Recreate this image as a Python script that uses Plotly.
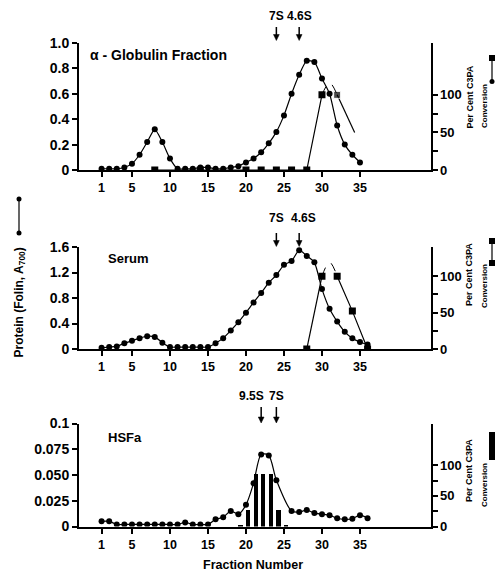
import plotly.graph_objects as go

# ---------------- data ----------------
tick_fracs = [1, 5, 10, 15, 20, 25, 30, 35]

# alpha-globulin fraction panel
top_frac = list(range(1, 36))
top_protein = [0.01, 0.01, 0.01, 0.02, 0.05, 0.12, 0.22, 0.32, 0.22, 0.09,
               0.01, 0.01, 0.01, 0.02, 0.02, 0.01, 0.01, 0.02, 0.03, 0.06,
               0.09, 0.14, 0.21, 0.30, 0.43, 0.60, 0.75, 0.86, 0.85, 0.72,
               0.60, 0.35, 0.20, 0.12, 0.06]
top_conv_frac = [8, 14, 20, 22, 24, 26, 28, 30]
top_conv = [0, 0, 0, 0, 0, 0, 0, 100]
top_conv_tail_frac = [32, 34.3]
top_conv_tail = [100, 50]
top_arc_frac = [30, 31, 32]
top_arc = [100, 116, 100]
top_markers = [("7S", 24), ("4.6S", 27)]

# serum panel
mid_frac = list(range(1, 37))
mid_protein = [0.02, 0.03, 0.04, 0.09, 0.13, 0.17, 0.20, 0.19, 0.10, 0.03,
               0.03, 0.03, 0.03, 0.03, 0.03, 0.09, 0.17, 0.29, 0.42, 0.57,
               0.73, 0.88, 1.04, 1.16, 1.32, 1.38, 1.55, 1.46, 1.36, 0.94,
               0.63, 0.43, 0.27, 0.17, 0.11, 0.07]
mid_conv_frac = [28, 30]
mid_conv = [0, 100]
mid_conv_tail_frac = [32, 34, 36]
mid_conv_tail = [100, 52, 0]
mid_arc_frac = [30, 31, 32]
mid_arc = [100, 119, 100]
mid_markers = [("7S", 24), ("4.6S", 27)]

# HSFa panel
bot_frac = [1, 2, 3, 4, 5, 6, 7, 8, 9, 10, 11, 12, 13, 14, 15, 16, 17, 18,
            19, 20, 21, 22, 23, 24, 26, 27, 28, 29, 30, 31, 32, 33, 34, 35, 36]
bot_protein = [0.005, 0.005, 0.002, 0.002, 0.002, 0.002, 0.002, 0.002, 0.002,
               0.002, 0.002, 0.004, 0.002, 0.002, 0.002, 0.007, 0.009, 0.015,
               0.012, 0.021, 0.042, 0.070, 0.069, 0.045, 0.015, 0.014, 0.016,
               0.013, 0.012, 0.011, 0.008, 0.007, 0.0075, 0.011, 0.008]
bar_frac = [19, 20, 21, 22, 23, 24, 25]
bar_conv = [3, 27, 86, 86, 86, 27, 2]
bot_markers = [("9.5S", 22), ("7S", 24)]

# axis tick labels
top_left_vals = [0, 0.2, 0.4, 0.6, 0.8, 1.0]
top_left_text = ["0", "0.2", "0.4", "0.6", "0.8", "1.0"]
mid_left_vals = [0, 0.4, 0.8, 1.2, 1.6]
mid_left_text = ["0", "0.4", "0.8", "1.2", "1.6"]
bot_left_vals = [0, 0.025, 0.05, 0.075, 0.1]
bot_left_text = ["0", "0.025", "0.050", "0.075", "0.1"]
right_vals = [0, 50, 100]
right_text = ["0", "50", "100"]
right_minor = [25, 75]

# ---------------- layout helpers ----------------
W, H = 501, 575
FONT = "Liberation Sans, Arial, sans-serif"


def px(x):
    return x / W


def py(y):
    return 1 - y / H


XDOM = [px(79), px(430.5)]
XRANGE = [-1.97, 44.28]

fig = go.Figure()

LW = 1.2
circ = dict(symbol="circle", size=6, color="black")
sq = dict(symbol="square", size=7, color="black")

# top panel traces
fig.add_trace(go.Scatter(x=top_frac, y=top_protein, mode="lines+markers",
                         line=dict(color="black", width=LW, shape="spline", smoothing=0.6),
                         marker=circ, xaxis="x", yaxis="y"))
fig.add_trace(go.Scatter(x=top_conv_frac, y=top_conv, mode="lines+markers",
                         line=dict(color="black", width=LW), marker=sq,
                         xaxis="x", yaxis="y2"))
fig.add_trace(go.Scatter(x=top_conv_tail_frac, y=top_conv_tail, mode="lines+markers",
                         line=dict(color="black", width=LW),
                         marker=dict(symbol="square", size=[7, 0], color="black"),
                         xaxis="x", yaxis="y2"))
fig.add_trace(go.Scatter(x=top_arc_frac, y=top_arc, mode="lines",
                         line=dict(color="black", width=1, dash="dash", shape="spline"),
                         xaxis="x", yaxis="y2"))

# middle panel traces
fig.add_trace(go.Scatter(x=mid_frac, y=mid_protein, mode="lines+markers",
                         line=dict(color="black", width=LW, shape="spline", smoothing=0.6),
                         marker=circ, xaxis="x2", yaxis="y3"))
fig.add_trace(go.Scatter(x=mid_conv_frac, y=mid_conv, mode="lines+markers",
                         line=dict(color="black", width=LW), marker=sq,
                         xaxis="x2", yaxis="y4"))
fig.add_trace(go.Scatter(x=mid_conv_tail_frac, y=mid_conv_tail, mode="lines+markers",
                         line=dict(color="black", width=LW), marker=sq,
                         xaxis="x2", yaxis="y4"))
fig.add_trace(go.Scatter(x=mid_arc_frac, y=mid_arc, mode="lines",
                         line=dict(color="black", width=1, dash="dash", shape="spline"),
                         xaxis="x2", yaxis="y4"))

# bottom panel traces
fig.add_trace(go.Bar(x=bar_frac, y=bar_conv, width=0.55, offset=0,
                     marker=dict(color="black", line=dict(width=0)),
                     xaxis="x3", yaxis="y6"))
fig.add_trace(go.Scatter(x=bot_frac, y=bot_protein, mode="lines+markers",
                         line=dict(color="black", width=LW, shape="spline", smoothing=0.8),
                         marker=circ, xaxis="x3", yaxis="y5"))


def f(size):
    return dict(family=FONT, size=size, color="black", weight="bold")


common = dict(ticks="outside", ticklen=5, tickwidth=1.5, tickcolor="black",
              showline=True, linewidth=2, linecolor="black", showgrid=False,
              zeroline=False, fixedrange=True, automargin=False)


def xax(anchor):
    return dict(domain=XDOM, range=XRANGE, anchor=anchor, tickvals=tick_fracs,
                tickfont=f(12.5), **common)


def yleft(dom, rng, vals, text, anchor):
    return dict(domain=dom, range=rng, anchor=anchor, tickvals=vals, ticktext=text,
                tickfont=f(14), **common)


def yright(over, rng, anchor):
    return dict(overlaying=over, side="right", range=rng, anchor=anchor,
                tickvals=right_vals, ticktext=right_text, tickfont=f(13),
                minor=dict(tickvals=right_minor, ticks="outside", ticklen=5,
                           tickwidth=1.5, tickcolor="black"),
                **common)


TOPD = [py(170), py(43)]
MIDD = [py(349), py(247)]
BOTD = [py(526.5), py(423.5)]

annotations = []
shapes = []


def txt(text, x, y, size=14, xanchor="center", yanchor="middle", angle=0,
        xref="paper", xshift=0):
    annotations.append(dict(text=text, x=x, y=y, xref=xref, yref="paper",
                            xanchor=xanchor, yanchor=yanchor, showarrow=False,
                            textangle=angle, xshift=xshift, font=f(size)))


def arrows(markers, xref, tip_y, tail_y, label_y, shifts):
    hw = 0.38  # half width of arrow head in fraction units
    for (lab, fr), sh in zip(markers, shifts):
        shapes.append(dict(type="line", xref=xref, yref="paper", x0=fr, x1=fr,
                           y0=py(tail_y), y1=py(tip_y - 5),
                           line=dict(color="black", width=1.5)))
        shapes.append(dict(type="path", xref=xref, yref="paper",
                           path=f"M {fr - hw} {py(tip_y - 6)} L {fr + hw} {py(tip_y - 6)} "
                                f"L {fr} {py(tip_y)} Z",
                           fillcolor="black", line=dict(color="black", width=0.5)))
        txt(lab, fr, py(label_y), size=12, xref=xref, xshift=sh)


arrows(top_markers, "x", 40.5, 27, 16, [0, 0])
arrows(mid_markers, "x2", 246.5, 233, 217.5, [0, 4])
arrows(bot_markers, "x3", 423, 407, 396, [-10, 0])

txt("α - Globulin Fraction", px(88), py(55), size=14, xanchor="left")
txt("Serum", px(106), py(258), size=13, xanchor="left")
txt("HSFa", px(106), py(437), size=13, xanchor="left")
txt("Fraction Number", px(253), py(565), size=12.5)

# left label
txt("Protein (Folin, A<sub>700</sub>)", px(19), py(302.5), size=12, angle=-90)

# right labels (centres of the rotated texts)
for pc_mid, conv_mid in ((97.5, 106), (275, 286), (471, 485)):
    txt("Per Cent C3PA", px(469), py(pc_mid), size=9, angle=-90)
    txt("Conversion", px(484), py(conv_mid), size=8, angle=-90)

# left legend symbol (line with dots)
shapes.append(dict(type="line", xref="paper", yref="paper", x0=px(19), x1=px(19),
                   y0=py(199), y1=py(233), line=dict(color="black", width=1.2)))
for yy in (199, 233):
    shapes.append(dict(type="circle", xref="paper", yref="paper",
                       x0=px(16.5), x1=px(21.5), y0=py(yy + 2.5), y1=py(yy - 2.5),
                       fillcolor="black", line=dict(width=0)))
SX = 492
# top right symbol: circle-line-square
shapes.append(dict(type="line", xref="paper", yref="paper", x0=px(SX), x1=px(SX),
                   y0=py(58), y1=py(82), line=dict(color="black", width=1.2)))
shapes.append(dict(type="rect", xref="paper", yref="paper", x0=px(SX - 3), x1=px(SX + 3),
                   y0=py(61), y1=py(55), fillcolor="black", line=dict(width=0)))
shapes.append(dict(type="circle", xref="paper", yref="paper", x0=px(SX - 2.5), x1=px(SX + 2.5),
                   y0=py(84), y1=py(79), fillcolor="black", line=dict(width=0)))
# middle right symbol: square-line-square
shapes.append(dict(type="line", xref="paper", yref="paper", x0=px(SX), x1=px(SX),
                   y0=py(241), y1=py(263), line=dict(color="black", width=1.2)))
for yy in (241, 263):
    shapes.append(dict(type="rect", xref="paper", yref="paper", x0=px(SX - 3), x1=px(SX + 3),
                       y0=py(yy + 3), y1=py(yy - 3), fillcolor="black", line=dict(width=0)))
# bottom right symbol: thick bar
shapes.append(dict(type="rect", xref="paper", yref="paper", x0=px(SX - 3), x1=px(SX + 3),
                   y0=py(460), y1=py(432), fillcolor="black", line=dict(width=0)))

fig.update_layout(
    width=W, height=H, margin=dict(l=0, r=0, t=0, b=0, autoexpand=False),
    paper_bgcolor="white", plot_bgcolor="white", showlegend=False,
    font=dict(family=FONT, color="black"),
    bargap=0, hovermode=False,
    xaxis=xax("y"),
    yaxis=yleft(TOPD, [0, 1.0], top_left_vals, top_left_text, "x"),
    yaxis2=yright("y", [0, 169], "x"),
    xaxis2=xax("y3"),
    yaxis3=yleft(MIDD, [0, 1.6], mid_left_vals, mid_left_text, "x2"),
    yaxis4=yright("y3", [0, 140], "x2"),
    xaxis3=xax("y5"),
    yaxis5=yleft(BOTD, [0, 0.1], bot_left_vals, bot_left_text, "x3"),
    yaxis6=yright("y5", [0, 168], "x3"),
    annotations=annotations,
    shapes=shapes,
)

fig.write_html("out.html", config={"displayModeBar": False},
               post_script="document.body.style.margin='0px';")
